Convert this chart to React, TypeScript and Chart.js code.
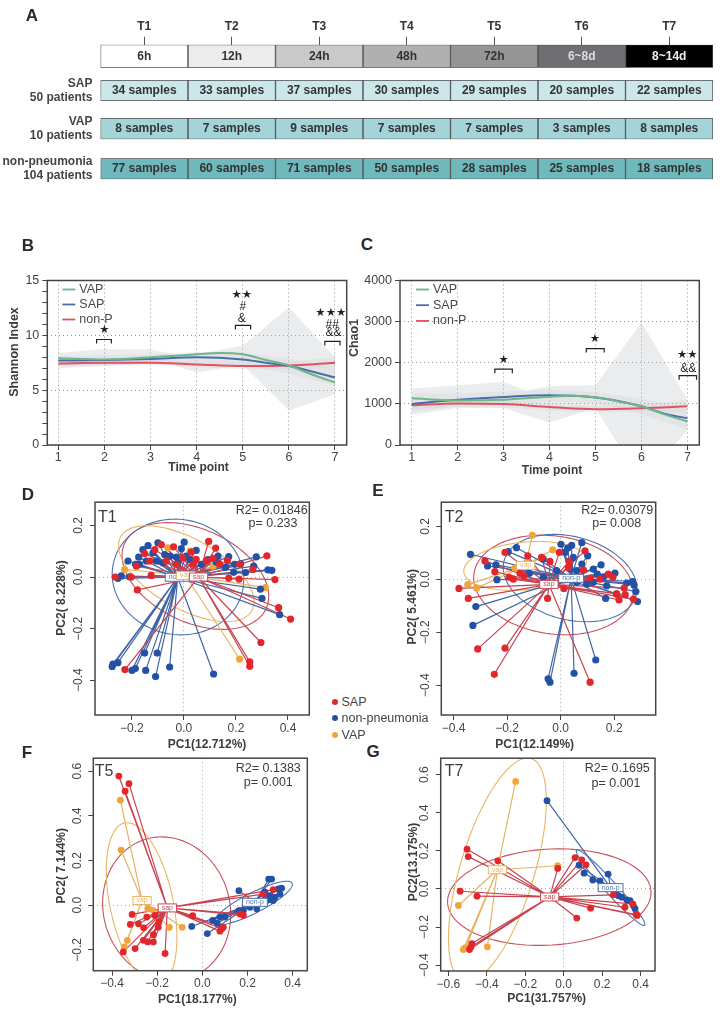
import { useEffect, useRef } from 'react';
import { Chart, registerables } from 'chart.js';

Chart.register(...registerables);

const FONT = '"Liberation Sans", Arial, sans-serif';
const INK = '#3c3c3c';

// ---------- Panel A ----------
const timeLabels = ['T1', 'T2', 'T3', 'T4', 'T5', 'T6', 'T7'];
const timeWindows = ['6h', '12h', '24h', '48h', '72h', '6~8d', '8~14d'];
const windowColors = ['#ffffff', '#ececec', '#c9c9c9', '#b0b0b0', '#959595', '#6f6f73', '#000000'];
const windowText = ['#333', '#333', '#333', '#333', '#333', '#dddddd', '#eeeeee'];
const sapSamples = [34, 33, 37, 30, 29, 20, 22];
const vapSamples = [8, 7, 9, 7, 7, 3, 8];
const nonPneumoniaSamples = [77, 60, 71, 50, 28, 25, 18];

// ---------- Panel B ----------
const shannonVap = [[1, 7.9], [2, 7.8], [3, 8.0], [4, 8.27], [4.5, 8.4], [5, 8.27], [5.5, 7.75], [6, 7.25], [6.5, 6.43], [7, 5.7]];
const shannonSap = [[1, 7.7], [2, 7.75], [3, 7.85], [4, 8.0], [5, 7.8], [5.5, 7.5], [6, 7.2], [6.5, 6.7], [7, 6.15]];
const shannonNonP = [[1, 7.43], [2, 7.5], [3, 7.5], [4, 7.35], [5, 7.2], [6, 7.25], [7, 7.5]];
const shannonWideUpper = [[1, 8.4], [2, 8.75], [3, 8.7], [3.5, 8.3], [4, 8.3], [5, 9.05], [6, 12.55], [7, 8.0]];
const shannonWideLower = [[1, 7.0], [2, 7.2], [3, 7.4], [3.5, 7.3], [4, 6.6], [5, 7.3], [6, 3.15], [7, 4.6]];
const shannonMidUpper = [[1, 8.1], [2, 8.2], [3, 8.3], [4, 8.5], [5, 8.4], [6, 7.9], [7, 6.9]];
const shannonMidLower = [[1, 7.3], [2, 7.3], [3, 7.4], [4, 7.5], [5, 7.3], [6, 6.5], [7, 5.4]];
const shannonNarrowUpper = [[1, 7.7], [2, 7.75], [3, 7.75], [4, 7.6], [5, 7.5], [6, 7.6], [7, 8.0]];
const shannonNarrowLower = [[1, 7.15], [2, 7.25], [3, 7.25], [4, 7.1], [5, 6.9], [6, 6.9], [7, 7.0]];
const shannonMarks = [
  { text: '★', x: 2, y: 10.47, star: true },
  { text: '★★', x: 4.98, y: 13.65, star: true },
  { text: '#', x: 5, y: 12.6 },
  { text: '&', x: 4.98, y: 11.5 },
  { text: '★★★', x: 6.91, y: 12.0, star: true },
  { text: '##', x: 6.94, y: 11.0 },
  { text: '&&', x: 6.97, y: 10.2 },
];
const shannonBrackets = [[1.83, 2.15, 9.62], [4.84, 5.17, 10.9], [6.78, 7.11, 9.44]];

// ---------- Panel C ----------
const chaoVap = [[1, 1137], [2, 1082], [3, 1098], [4, 1176], [4.5, 1200], [5, 1160], [5.5, 1059], [6, 940], [6.5, 745], [7, 572]];
const chaoSap = [[1, 996], [2, 1098], [3, 1169], [4, 1208], [5, 1153], [6, 941], [6.5, 760], [7, 650]];
const chaoNonP = [[1, 965], [2, 1012], [3, 996], [4, 925], [5, 870], [6, 894], [7, 941]];
const chaoWideUpper = [[1, 1370], [2, 1450], [3, 1530], [3.5, 1320], [4, 1435], [5, 1450], [6, 2980], [7, 1100]];
const chaoWideLower = [[1, 730], [2, 900], [3, 900], [4, 550], [5, 900], [6, -900], [7, 350]];
const chaoMidUpper = [[1, 1250], [2, 1250], [3, 1300], [4, 1350], [5, 1280], [6, 1130], [7, 900]];
const chaoMidLower = [[1, 800], [2, 950], [3, 1000], [4, 1050], [5, 1020], [6, 750], [7, 380]];
const chaoNarrowUpper = [[1, 1060], [2, 1090], [3, 1080], [4, 1020], [5, 950], [6, 980], [7, 1090]];
const chaoNarrowLower = [[1, 870], [2, 930], [3, 910], [4, 830], [5, 790], [6, 810], [7, 790]];
const chaoMarks = [
  { text: '★', x: 3, y: 2063, star: true },
  { text: '★', x: 4.99, y: 2565, star: true },
  { text: '★★', x: 7, y: 2188, star: true },
  { text: '&&', x: 7.02, y: 1859 },
];
const chaoBrackets = [[2.81, 3.19, 1843], [4.8, 5.19, 2345], [6.82, 7.2, 1686]];

// ---------- Panel D (T1) ----------
const t1Sap = [[.41, -.163], [.364, -.119], [.296, -.254], [.253, -.329], [.253, -.346], [-.227, -.359], [-.179, -.05], [-.264, 0], [-.126, .006], [.172, -.004], [.212, -.008], [.35, -.01], [.319, .082], [.265, .029], [.095, .138], [.122, .112], [-.04, .117], [-.087, .126], [-.151, .091], [-.112, .106], [.028, .097], [-.004, .074], [.112, .072], [.167, .064], [.214, .049], [.086, .062], [.047, .068], [-.068, .062], [-.132, .062], [-.183, .042], [-.203, 0], [.035, .049], [.137, .051], [-.029, .049]];
const t1NonP = [[.368, -.146], [.3, -.083], [.294, -.047], [.338, .026], [.323, .028], [.278, .078], [.268, .042], [.237, .017], [.191, .018], [.218, .051], [.172, .079], [.131, .081], [.047, .103], [.001, .135], [-.01, .11], [-.1, .132], [-.138, .122], [-.158, .106], [-.174, .077], [-.215, .062], [-.186, .049], [-.171, .049], [-.241, .004], [-.254, -.005], [-.209, .001], [-.273, -.338], [-.276, -.347], [-.254, -.332], [-.2, -.362], [-.187, -.355], [-.151, -.295], [-.147, -.362], [-.103, -.295], [-.109, -.386], [-.055, -.349], [.114, -.376], [-.119, .094], [-.074, .087], [-.053, .081], [-.029, .077], [.009, .081], [.035, .062], [.067, .049], [.092, .067], [.124, .058], [.16, .038], [.195, .049], [-.106, .062], [-.145, .062], [.022, .068], [-.023, .055], [-.081, .055]];
const t1Vap = [[.313, -.041], [.214, -.318], [-.228, .029], [-.062, .113], [.024, .1], [-.126, .062], [.112, .042], [.009, .008]];
const t1Centers = { sap: [.056, 0], nonP: [-.024, -.001], vap: [.006, .006] };
const t1Ellipses = { sap: [.044, .004, .3, .18, -.44], nonP: [-.023, 0, .254, .223, -.2], vap: [.009, .013, .29, .135, -.52] };

// ---------- Panel E (T2) ----------
const t2Sap = [[.11, -.389], [-.049, -.072], [.012, -.034], [-.248, -.359], [-.208, -.26], [-.31, -.263], [-.38, -.034], [-.345, -.072], [-.246, .029], [-.283, .07], [-.208, .102], [-.123, .089], [-.071, .083], [-.04, .068], [-.177, .001], [-.193, .008], [-.137, .014], [.091, .108], [-.005, .102], [.031, .068], [.085, .035], [.178, .02], [.195, .008], [.237, -.033], [.241, -.058], [.218, -.078], [.272, -.075], [.209, -.055], [.11, .005], [.147, .001], [-.152, .023], [.029, .045]];
const t2NonP = [[.131, -.305], [.05, -.355], [-.047, -.376], [-.04, -.389], [-.328, -.174], [-.317, -.103], [-.238, -.001], [-.273, .051], [-.337, .095], [-.242, .055], [-.196, .105], [-.165, .12], [-.065, .077], [.001, .133], [.041, .129], [.026, .118], [.079, .139], [.016, .102], [.101, .089], [.047, .083], [.079, .058], [.151, .055], [.122, .039], [.203, .024], [.137, .02], [.16, .01], [.247, -.014], [.269, -.008], [.274, -.021], [.281, -.046], [.287, -.084], [.168, -.072], [.209, -.055], [.097, -.018], [.06, -.011], [.122, -.011], [.172, -.024], [.035, .039], [.06, .033], [-.015, .033], [-.065, .008], [-.117, .023]];
const t2Vap = [[-.106, .167], [-.03, .112], [-.072, .083], [-.171, .043], [-.347, -.02], [-.314, -.033], [-.127, .064]];
const t2Centers = { sap: [-.044, -.019], nonP: [.039, .004], vap: [-.131, .053] };
const t2Ellipses = { sap: [-.027, -.021, .3, .185, -.15], nonP: [.035, .005, .255, .157, -.26], vap: [-.133, .051, .23, .09, .1] };

// ---------- Panel F (T5) ----------
const t5Sap = [[-.37, .578], [-.325, .544], [-.342, .51], [-.311, -.041], [-.319, -.086], [-.283, -.083], [-.26, -.101], [-.193, -.076], [-.217, -.132], [-.261, -.157], [-.242, -.164], [-.217, -.164], [-.35, -.209], [-.298, -.194], [-.165, -.216], [-.043, -.047], [.078, -.116], [.093, -.098], [.086, -.105], [.314, .07], [.27, .05], [.182, -.046], [.167, -.039], [-.246, -.053], [-.21, -.046], [-.195, -.098]];
const t5NonP = [[.294, .117], [.307, .117], [.351, .076], [.162, .065], [-.047, -.095], [.022, -.127], [.046, -.068], [.066, -.08], [.1, -.053], [.162, -.024], [.182, -.024], [.211, -.009], [.241, .006], [.285, .021], [.307, .024], [.322, .036], [.344, .05], [.3, .043], [.314, .021], [.277, .058], [.337, .073], [.241, -.016], [.167, -.031], [.078, -.053]];
const t5Vap = [[-.363, .47], [-.36, .247], [-.332, -.157], [-.345, -.187], [-.146, -.099], [-.089, -.099], [-.242, -.016], [-.217, -.024]];
const t5Centers = { sap: [-.155, -.012], nonP: [.233, .013], vap: [-.267, .021] };
const t5Ellipses = { sap: [-.158, -.016, .325, .28, 1.85], nonP: [.226, .01, .193, .045, .477], vap: [-.269, .006, .37, .14, 1.776] };

// ---------- Panel G (T7) ----------
const t7Sap = [[-.503, .209], [-.497, .17], [-.343, .148], [-.539, -.012], [-.451, -.038], [-.031, .108], [.059, .165], [.094, .153], [.116, .127], [.14, -.101], [.068, -.153], [.258, -.031], [.319, -.096], [.359, -.078], [.376, -.134], [.383, -.139], [-.478, -.287], [-.482, -.304], [-.49, -.318]];
const t7NonP = [[-.087, .464], [.08, .125], [.106, .083], [.151, .047], [.189, .043], [.231, .078], [.284, -.035], [.302, -.043], [.328, -.057], [.345, -.061], [.371, -.104], [.362, -.087], [.267, -.017]];
const t7Vap = [[-.25, .565], [-.031, .122], [-.548, -.087], [-.397, -.304], [-.516, -.313], [-.51, -.308], [-.522, -.318]];
const t7Centers = { sap: [-.073, -.042], nonP: [.244, .007], vap: [-.345, .101] };
const t7Ellipses = { sap: [-.075, -.043, .53, .252, .06], nonP: [.244, .007, .265, .032, -.84], vap: [-.345, .101, .61, .193, 1.28] };

const LINE = { vap: '#6db58a', sap: '#4a6ea8', nonP: '#e0535f' };
const BAND = 'rgba(190,192,195,0.3)';
const BAND_SOFT = 'rgba(200,202,205,0.2)';
const PCA = {
  sap: { point: '#e3262c', spoke: '#c8434f', ring: '#c9505a', name: 'sap' },
  nonP: { point: '#2251a6', spoke: '#3f66a6', ring: '#4c74ad', name: 'non-p' },
  vap: { point: '#efa53c', spoke: '#e5b363', ring: '#e8b565', name: 'vap' },
};

const base = { responsive: false, animation: false as const };

function geometry(box: any, frame: any) {
  return {
    layout: { autoPadding: false, padding: { top: frame.t - box.top, right: box.left + box.width - frame.r } },
    yFit: (s: any) => { s.width = frame.l - box.left; },
    xFit: (s: any) => { s.height = box.top + box.height - frame.b; },
  };
}

const framePlugin = (color: string, width: number) => ({
  id: 'frame',
  afterDatasetsDraw(chart: any) {
    const { ctx, chartArea: a } = chart;
    ctx.save();
    ctx.strokeStyle = color;
    ctx.lineWidth = width;
    ctx.strokeRect(a.left, a.top, a.right - a.left, a.bottom - a.top);
    ctx.restore();
  },
});

const pageTextPlugin = (box: any, texts: any[]) => ({
  id: 'pageText',
  afterDraw(chart: any) {
    const { ctx } = chart;
    texts.forEach((t) => {
      ctx.save();
      ctx.translate(t.x - box.left, t.y - box.top);
      if (t.vertical) ctx.rotate(-Math.PI / 2);
      ctx.font = t.font;
      ctx.fillStyle = t.color || INK;
      ctx.textAlign = 'center';
      ctx.textBaseline = 'middle';
      ctx.fillText(t.text, 0, 0);
      ctx.restore();
    });
  },
});

// ---------- Panel A configuration ----------
function rowConfig(box: any, frame: any, title: any, cells: string[], colors: string[], textColors: string[], top: boolean) {
  const g = geometry(box, frame);
  const padding = {
    top: top ? 0 : frame.t - box.top,
    right: box.left + box.width - frame.r,
    bottom: box.top + box.height - frame.b,
  };
  return {
    type: 'bar',
    data: {
      labels: [title],
      datasets: cells.map((label, i) => ({
        label,
        data: [1],
        backgroundColor: colors[i],
        borderColor: '#4d4d4d',
        borderWidth: 1,
        borderSkipped: false,
        barPercentage: 1,
        categoryPercentage: 1,
        textColor: textColors[i],
      })),
    },
    options: {
      ...base,
      indexAxis: 'y',
      layout: { autoPadding: false, padding },
      plugins: { legend: { display: false }, tooltip: { enabled: false } },
      scales: {
        x: {
          type: 'linear', min: 0, max: 7, stacked: true, display: top, position: 'top',
          afterBuildTicks: (s: any) => { s.ticks = timeLabels.map((_, i) => ({ value: i + 0.5 })); },
          afterFit: (s: any) => { s.height = top ? frame.t - box.top : 0; s.paddingLeft = 0; s.paddingRight = 0; },
          ticks: {
            callback: (_: any, i: number) => timeLabels[i], autoSkip: false, maxRotation: 0, padding: 3,
            font: { family: FONT, size: 12, weight: 'bold' }, color: '#333',
          },
          grid: { drawOnChartArea: false, tickLength: 8, tickColor: '#555' },
          border: { display: false },
        },
        y: {
          stacked: true,
          afterFit: (s: any) => { g.yFit(s); s.paddingTop = 0; s.paddingBottom = 0; },
          ticks: { padding: 8, font: { family: FONT, size: 12, weight: 'bold', lineHeight: 1.12 }, color: '#444', autoSkip: false },
          grid: { display: false, drawTicks: false },
          border: { display: false },
        },
      },
    },
    plugins: [{
      id: 'cellText',
      afterDatasetsDraw(chart: any) {
        const { ctx } = chart;
        chart.data.datasets.forEach((d: any, i: number) => {
          const el = chart.getDatasetMeta(i).data[0];
          ctx.save();
          ctx.font = `bold 12px ${FONT}`;
          ctx.fillStyle = d.textColor;
          ctx.textAlign = 'center';
          ctx.textBaseline = 'middle';
          ctx.fillText(d.label, (el.x + el.base) / 2, el.y);
          ctx.restore();
        });
      },
    }],
  };
}

// ---------- Panels B and C configuration ----------
function timeConfig(c: any) {
  const g = geometry(c.box, c.frame);
  const lineSet = (label: string, data: any, color: string) => ({
    label, data, borderColor: color, borderWidth: 2, pointRadius: 0, cubicInterpolationMode: 'monotone', fill: false,
  });
  const bandSet = (label: string, upper: any, lower: any, color: string) => [
    { label: label + ' upper', data: upper, borderWidth: 0, pointRadius: 0, backgroundColor: color, fill: '+1', tension: 0 },
    { label: label + ' lower', data: lower, borderWidth: 0, pointRadius: 0, fill: false, tension: 0 },
  ];
  const series = [
    { label: 'VAP', data: c.vap, color: LINE.vap },
    { label: 'SAP', data: c.sap, color: LINE.sap },
    { label: 'non-P', data: c.nonP, color: LINE.nonP },
  ];
  const datasets = [
    ...series.map((s) => lineSet(s.label, s.data, s.color)),
    ...bandSet('wide', c.bands[0], c.bands[1], BAND),
    ...bandSet('mid', c.bands[2], c.bands[3], BAND_SOFT),
    ...bandSet('narrow', c.bands[4], c.bands[5], BAND_SOFT),
  ];
  const dots = 'rgba(110,110,110,0.75)';
  return {
    type: 'line',
    data: { datasets },
    options: {
      ...base,
      layout: g.layout,
      plugins: { legend: { display: false }, tooltip: { enabled: false } },
      scales: {
        x: {
          type: 'linear', min: c.xMin, max: c.xMax, afterFit: g.xFit,
          ticks: { stepSize: 1, includeBounds: false, padding: 0, maxRotation: 0, font: { family: FONT, size: 12.5 }, color: '#444' },
          grid: { color: dots, lineWidth: 1, tickColor: '#444', tickLength: 5 },
          border: { display: false, dash: [1, 3] },
        },
        y: {
          type: 'linear', min: 0, max: c.yMax, afterFit: g.yFit,
          ticks: {
            stepSize: c.yStep, padding: 3, autoSkip: false, includeBounds: false, font: { family: FONT, size: 12.5 }, color: '#444',
            callback: (v: number) => (v % c.yLabelEvery === 0 ? String(v) : ''),
          },
          grid: {
            color: (ctx: any) => (ctx.tick.value % c.yLabelEvery === 0 ? dots : 'transparent'),
            lineWidth: 1, tickColor: '#444', tickLength: 5,
          },
          border: { display: false, dash: [1, 3] },
        },
      },
    },
    plugins: [
      framePlugin('#454545', 1.5),
      {
        id: 'marks',
        afterDatasetsDraw(chart: any) {
          const { ctx, scales: { x, y }, chartArea: a } = chart;
          ctx.save();
          ctx.strokeStyle = '#222';
          ctx.lineWidth = 1.2;
          c.brackets.forEach(([x0, x1, v]: number[]) => {
            const py = y.getPixelForValue(v);
            ctx.beginPath();
            ctx.moveTo(x.getPixelForValue(x0), py + 4);
            ctx.lineTo(x.getPixelForValue(x0), py);
            ctx.lineTo(x.getPixelForValue(x1), py);
            ctx.lineTo(x.getPixelForValue(x1), py + 4);
            ctx.stroke();
          });
          c.marks.forEach((m: any) => {
            ctx.font = m.star ? '11.5px "DejaVu Sans"' : `12px ${FONT}`;
            ctx.fillStyle = '#222';
            ctx.textAlign = 'center';
            ctx.textBaseline = 'middle';
            ctx.fillText(m.text, x.getPixelForValue(m.x), y.getPixelForValue(m.y));
          });
          series.forEach((s, i) => {
            const py = a.top + 9 + i * c.legendGap;
            ctx.strokeStyle = s.color;
            ctx.lineWidth = 1.8;
            ctx.beginPath();
            ctx.moveTo(a.left + c.legendX, py);
            ctx.lineTo(a.left + c.legendX + 13, py);
            ctx.stroke();
            ctx.font = `12.5px ${FONT}`;
            ctx.fillStyle = '#4a4a4a';
            ctx.textAlign = 'left';
            ctx.textBaseline = 'middle';
            ctx.fillText(s.label, a.left + c.legendX + 17, py);
          });
          ctx.restore();
        },
      },
      pageTextPlugin(c.box, c.texts),
    ],
  };
}

// ---------- Panels D-G configuration ----------
const NaNPoint = [NaN, NaN];
function pcaConfig(c: any) {
  const g = geometry(c.box, c.frame);
  const order = ['sap', 'nonP', 'vap'] as const;
  const spokes = order.map((k) => ({
    label: PCA[k].name + ' spokes', showLine: true, pointRadius: 0, borderWidth: 1.2, borderColor: PCA[k].spoke,
    data: c.points[k].flatMap((p: number[]) => [c.centers[k], p, NaNPoint]),
  }));
  const points = order.map((k) => ({
    label: PCA[k].name, showLine: false, pointRadius: c.radius, pointBorderWidth: 0, pointBackgroundColor: PCA[k].point,
    data: c.points[k],
  }));
  const dots = 'rgba(120,125,135,0.7)';
  const isZero = (ctx: any) => Math.abs(ctx.tick.value) < 1e-6;
  const fmt = (v: number) => (Math.abs(v) < 1e-6 ? '0.0' : v.toFixed(1).replace('-', '\u2212'));
  return {
    type: 'scatter',
    data: { datasets: [...points, ...spokes] },
    options: {
      ...base,
      layout: g.layout,
      plugins: { legend: { display: false }, tooltip: { enabled: false } },
      scales: {
        x: {
          type: 'linear', min: c.x[0], max: c.x[1], afterFit: g.xFit,
          ticks: { stepSize: .2, includeBounds: false, callback: fmt, padding: 1, maxRotation: 0, autoSkip: false, font: { family: FONT, size: 12 }, color: '#444' },
          grid: { color: (ctx: any) => (isZero(ctx) ? dots : 'transparent'), tickColor: '#444', tickLength: 5 },
          border: { display: false, dash: [1, 3] },
        },
        y: {
          type: 'linear', min: c.y[0], max: c.y[1], afterFit: g.yFit,
          ticks: {
            stepSize: .2, includeBounds: false, callback: fmt, minRotation: 90, maxRotation: 90, crossAlign: 'center',
            padding: -1, autoSkip: false, font: { family: FONT, size: 12 }, color: '#444',
          },
          grid: { color: (ctx: any) => (isZero(ctx) ? dots : 'transparent'), tickColor: '#444', tickLength: 5 },
          border: { display: false, dash: [1, 3] },
        },
      },
    },
    plugins: [
      {
        id: 'ellipses',
        beforeDatasetsDraw(chart: any) {
          const { ctx, scales: { x, y }, chartArea: a } = chart;
          ctx.save();
          ctx.beginPath();
          ctx.rect(a.left, a.top, a.right - a.left, a.bottom - a.top);
          ctx.clip();
          order.forEach((k) => {
            const [cx, cy, ra, rb, th] = c.ellipses[k];
            ctx.strokeStyle = PCA[k].ring;
            ctx.lineWidth = 1.1;
            ctx.beginPath();
            for (let i = 0; i <= 120; i++) {
              const t = (i / 120) * Math.PI * 2;
              const ex = cx + ra * Math.cos(t) * Math.cos(th) - rb * Math.sin(t) * Math.sin(th);
              const ey = cy + ra * Math.cos(t) * Math.sin(th) + rb * Math.sin(t) * Math.cos(th);
              if (i === 0) ctx.moveTo(x.getPixelForValue(ex), y.getPixelForValue(ey));
              else ctx.lineTo(x.getPixelForValue(ex), y.getPixelForValue(ey));
            }
            ctx.stroke();
          });
          ctx.restore();
        },
      },
      framePlugin('#454545', 1.5),
      {
        id: 'centerLabels',
        afterDatasetsDraw(chart: any) {
          const { ctx, scales: { x, y } } = chart;
          (['nonP', 'vap', 'sap'] as const).forEach((k) => {
            const [cx, cy] = c.centers[k];
            const px = x.getPixelForValue(cx);
            const py = y.getPixelForValue(cy);
            ctx.save();
            ctx.font = `7px ${FONT}`;
            const w = ctx.measureText(PCA[k].name).width + 7;
            ctx.fillStyle = '#ffffff';
            ctx.strokeStyle = PCA[k].ring;
            ctx.lineWidth = 1;
            ctx.fillRect(px - w / 2, py - 4, w, 8);
            ctx.strokeRect(px - w / 2, py - 4, w, 8);
            ctx.fillStyle = PCA[k].ring;
            ctx.textAlign = 'center';
            ctx.textBaseline = 'middle';
            ctx.fillText(PCA[k].name, px, py);
            ctx.restore();
          });
        },
      },
      pageTextPlugin(c.box, c.texts),
    ],
  };
}

const boldTitle = `bold 12px ${FONT}`;
const stat = `12.5px ${FONT}`;
const tag = `16px ${FONT}`;

const panelB = {
  box: { left: 0, top: 270, width: 352, height: 206 },
  frame: { l: 47.3, r: 346.7, t: 274, b: 445 },
  xMin: .761, xMax: 7.254, yMax: 15, yStep: 1, yLabelEvery: 5, legendX: 15, legendGap: 15,
  vap: shannonVap, sap: shannonSap, nonP: shannonNonP,
  bands: [shannonWideUpper, shannonWideLower, shannonMidUpper, shannonMidLower, shannonNarrowUpper, shannonNarrowLower],
  marks: shannonMarks, brackets: shannonBrackets,
  texts: [
    { text: 'Shannon Index', x: 14.5, y: 352, vertical: true, font: `bold 12.5px ${FONT}` },
    { text: 'Time point', x: 198.5, y: 468, font: boldTitle },
  ],
};
const panelC = {
  box: { left: 345, top: 270, width: 360, height: 206 },
  frame: { l: 400, r: 699.3, t: 275, b: 445 },
  xMin: .745, xMax: 7.26, yMax: 4000, yStep: 1000, yLabelEvery: 1000, legendX: 16, legendGap: 15.7,
  vap: chaoVap, sap: chaoSap, nonP: chaoNonP,
  bands: [chaoWideUpper, chaoWideLower, chaoMidUpper, chaoMidLower, chaoNarrowUpper, chaoNarrowLower],
  marks: chaoMarks, brackets: chaoBrackets,
  texts: [
    { text: 'Chao1', x: 355, y: 338, vertical: true, font: `bold 12.5px ${FONT}` },
    { text: 'Time point', x: 552, y: 471, font: boldTitle },
  ],
};
const panelD = {
  box: { left: 50, top: 496, width: 264, height: 258 },
  frame: { l: 95, r: 309.3, t: 500.7, b: 715 },
  x: [-.342, .482], y: [-.535, .29], radius: 3.6,
  points: { sap: t1Sap, nonP: t1NonP, vap: t1Vap }, centers: t1Centers, ellipses: t1Ellipses,
  texts: [
    { text: 'PC2( 8.228%)', x: 62, y: 598, vertical: true, font: boldTitle },
    { text: 'PC1(12.712%)', x: 207, y: 745, font: boldTitle },
    { text: 'R2= 0.01846', x: 271.7, y: 511, font: stat },
    { text: 'p= 0.233', x: 273, y: 524, font: stat },
    { text: 'T1', x: 107.3, y: 517.3, font: tag },
  ],
};
const panelE = {
  box: { left: 400, top: 496, width: 260, height: 258 },
  frame: { l: 441.3, r: 655.7, t: 501, b: 715 },
  x: [-.446, .355], y: [-.513, .292], radius: 3.6,
  points: { sap: t2Sap, nonP: t2NonP, vap: t2Vap }, centers: t2Centers, ellipses: t2Ellipses,
  texts: [
    { text: 'PC2( 5.461%)', x: 412.7, y: 606.7, vertical: true, font: boldTitle },
    { text: 'PC1(12.149%)', x: 534.7, y: 745, font: boldTitle },
    { text: 'R2= 0.03079', x: 617.3, y: 510.7, font: stat },
    { text: 'p= 0.008', x: 616.7, y: 523.3, font: stat },
    { text: 'T2', x: 454, y: 517.3, font: tag },
  ],
};
const panelF = {
  box: { left: 50, top: 752, width: 262, height: 258 },
  frame: { l: 93.3, r: 307.3, t: 756.7, b: 970.7 },
  x: [-.483, .465], y: [-.293, .658], radius: 3.4,
  points: { sap: t5Sap, nonP: t5NonP, vap: t5Vap }, centers: t5Centers, ellipses: t5Ellipses,
  texts: [
    { text: 'PC2( 7.144%)', x: 61.7, y: 865.7, vertical: true, font: boldTitle },
    { text: 'PC1(18.177%)', x: 197.3, y: 999.3, font: boldTitle },
    { text: 'R2= 0.1383', x: 268.3, y: 769, font: stat },
    { text: 'p= 0.001', x: 268.3, y: 782.7, font: stat },
    { text: 'T5', x: 104, y: 771.7, font: tag },
  ],
};
const panelG = {
  box: { left: 400, top: 752, width: 260, height: 258 },
  frame: { l: 440.7, r: 655, t: 756.7, b: 971 },
  x: [-.64, .475], y: [-.431, .687], radius: 3.4,
  points: { sap: t7Sap, nonP: t7NonP, vap: t7Vap }, centers: t7Centers, ellipses: t7Ellipses,
  texts: [
    { text: 'PC2(13.175%)', x: 413.3, y: 862, vertical: true, font: boldTitle },
    { text: 'PC1(31.757%)', x: 546.7, y: 998.3, font: boldTitle },
    { text: 'R2= 0.1695', x: 617.3, y: 769, font: stat },
    { text: 'p= 0.001', x: 616, y: 784, font: stat },
    { text: 'T7', x: 454, y: 771.7, font: tag },
  ],
};

const samples = (list: number[]) => list.map((n) => `${n} samples`);
const fillAll = (c: string) => timeLabels.map(() => c);
const darkText = fillAll('#333');
const rowBox = (top: number) => ({ left: 0, top: top - 6, width: 716, height: 34 });
const rowFrame = (top: number, bottom: number) => ({ l: 100.5, r: 713, t: top, b: bottom });
const rowTop = { left: 0, top: 18, width: 716, height: 50 };
const rowSap = rowBox(80);
const rowVap = rowBox(118);
const rowNon = rowBox(158);

const charts = [
  { box: rowTop, build: () => rowConfig(rowTop, rowFrame(44.7, 67.7), '', timeWindows, windowColors, windowText, true) },
  { box: rowSap, build: () => rowConfig(rowSap, rowFrame(80, 101), ['SAP', '50 patients'], samples(sapSamples), fillAll('#cbe7e9'), darkText, false) },
  { box: rowVap, build: () => rowConfig(rowVap, rowFrame(118, 139.3), ['VAP', '10 patients'], samples(vapSamples), fillAll('#a4d4d7'), darkText, false) },
  { box: rowNon, build: () => rowConfig(rowNon, rowFrame(158.3, 179.3), ['non-pneumonia', '104 patients'], samples(nonPneumoniaSamples), fillAll('#6fb8bc'), darkText, false) },
  { box: panelB.box, build: () => timeConfig(panelB) },
  { box: panelC.box, build: () => timeConfig(panelC) },
  { box: panelD.box, build: () => pcaConfig(panelD) },
  { box: panelE.box, build: () => pcaConfig(panelE) },
  { box: panelF.box, build: () => pcaConfig(panelF) },
  { box: panelG.box, build: () => pcaConfig(panelG) },
];

const panelLetters = [
  ['A', 32, 16], ['B', 28, 246], ['C', 367, 245], ['D', 28, 495],
  ['E', 378, 491], ['F', 27, 753], ['G', 373, 752],
] as const;
const legendItems = [
  ['SAP', PCA.sap.point, 702], ['non-pneumonia', PCA.nonP.point, 718], ['VAP', PCA.vap.point, 735],
] as const;

function ChartCanvas({ box, build }: any) {
  const ref = useRef<HTMLCanvasElement>(null);
  useEffect(() => {
    const chart = new Chart(ref.current as any, build());
    return () => chart.destroy();
  }, []);
  return (
    <canvas
      ref={ref}
      width={box.width}
      height={box.height}
      style={{ position: 'absolute', left: box.left, top: box.top, width: box.width, height: box.height }}
    />
  );
}

export default function App() {
  return (
    <div style={{ position: 'fixed', left: 0, top: 0, width: 722, height: 1015, background: '#fff', overflow: 'hidden', filter: 'blur(0.35px)' }}>
      {charts.map((c, i) => <ChartCanvas key={i} box={c.box} build={c.build} />)}
      {panelLetters.map(([t, x, y]) => (
        <div key={t} style={{ position: 'absolute', left: x, top: y, transform: 'translate(-50%,-50%)', font: `bold 17px ${FONT}`, color: '#2a2a2a' }}>{t}</div>
      ))}
      {legendItems.map(([t, color, y]) => (
        <div key={t} style={{ position: 'absolute', left: 332, top: y, transform: 'translateY(-50%)', display: 'flex', alignItems: 'center', gap: 3.5, font: `12.5px ${FONT}`, color: '#444' }}>
          <span style={{ width: 6, height: 6, borderRadius: 3, background: color, display: 'inline-block' }} />
          {t}
        </div>
      ))}
    </div>
  );
}
